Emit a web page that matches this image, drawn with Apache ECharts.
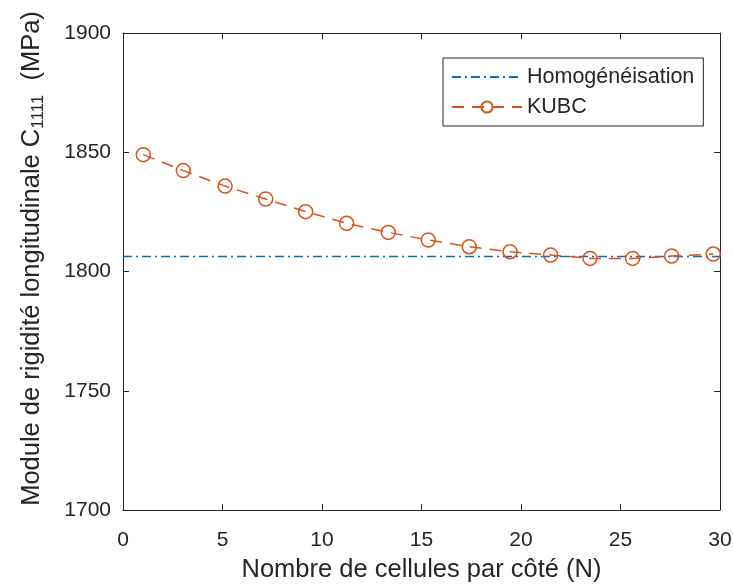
<!DOCTYPE html>
<html>
<head>
<meta charset="utf-8">
<script src="https://cdn.jsdelivr.net/npm/echarts@6/dist/echarts.min.js"></script>
<style>
  html, body { margin: 0; padding: 0; background: #fff; }
  #chart { width: 733px; height: 584px; }
</style>
</head>
<body>
<div id="chart"></div>
<script>
// valeurs
var nCells = [1.02, 3.03, 5.13, 7.17, 9.18, 11.24, 13.33, 15.34, 17.4, 19.45, 21.49, 23.47, 25.61, 27.57, 29.66];
var kubc = [1849.0, 1842.3, 1835.8, 1830.4, 1825.1, 1820.2, 1816.4, 1813.2, 1810.4, 1808.3, 1806.9, 1805.5, 1805.5, 1806.5, 1807.3];
var homogX = [0, 30];
var homogValue = 1806.3;
var xTicks = [0, 5, 10, 15, 20, 25, 30];
var yTicks = [1700, 1750, 1800, 1850, 1900];

var textColor = '#262626';
var font = 'Liberation Sans, Arial, sans-serif';

var chart = echarts.init(document.getElementById('chart'));

function axisBase(extra) {
	var a = {
		type: 'value',
		axisLine: { show: true, onZero: false, lineStyle: { color: textColor, width: 1 } },
		axisTick: { show: true, inside: true, length: 6, lineStyle: { color: textColor } },
		splitLine: { show: false },
		axisLabel: { show: false }
	};
	for (var k in extra) a[k] = extra[k];
	return a;
}

chart.setOption({
	animation: false,
	backgroundColor: '#fff',
	grid: { left: 123, right: 13, top: 33, bottom: 74, containLabel: false, outerBoundsMode: 'none' },
	legend: {
		orient: 'vertical',
		left: 443,
		top: 58,
		padding: [8, 9, 8, 8],
		itemGap: 8,
		itemWidth: 70,
		itemHeight: 14,
		borderColor: textColor,
		borderWidth: 1,
		backgroundColor: '#fff',
		textStyle: { fontFamily: font, fontSize: 21.5, color: textColor },
		data: [
			{ name: 'Homogénéisation', itemStyle: { opacity: 0 } },
			'KUBC'
		]
	},
	xAxis: [
		axisBase({
			position: 'bottom', min: xTicks[0], max: xTicks[xTicks.length - 1], interval: 5,
			name: 'Nombre de cellules par côté (N)',
			nameLocation: 'middle', nameGap: 47,
			nameTextStyle: { fontFamily: font, fontSize: 25.5, color: textColor },
			axisLabel: { show: true, fontFamily: font, fontSize: 21, color: textColor, margin: 20 }
		}),
		axisBase({ position: 'top', min: xTicks[0], max: xTicks[xTicks.length - 1], interval: 5 })
	],
	yAxis: [
		axisBase({
			position: 'left', min: yTicks[0], max: yTicks[yTicks.length - 1], interval: 50,
			name: '{a|Module de rigidité longitudinale C}{s|1111}{a|  (MPa)}',
			nameLocation: 'middle', nameGap: 76,
			nameTextStyle: {
				color: textColor,
				padding: [0, 0, 0, 26],
				rich: {
					a: { fontFamily: font, fontSize: 25.5, color: textColor },
					s: { fontFamily: font, fontSize: 17, color: textColor, padding: [13, 0, 0, 0] }
				}
			},
			axisLabel: {
				show: true, fontFamily: font, fontSize: 21, color: textColor, margin: 12,
				formatter: function (v) { return String(v); }
			}
		}),
		axisBase({ position: 'right', min: yTicks[0], max: yTicks[yTicks.length - 1], interval: 50 })
	],
	series: [
		{
			name: 'Homogénéisation',
			type: 'line',
			data: homogX.map(function (x) { return [x, homogValue]; }),
			symbol: 'none',
			lineStyle: { color: '#0072BD', width: 1.5, type: [9, 4, 2, 4] },
			itemStyle: { color: '#0072BD' }
		},
		{
			name: 'KUBC',
			type: 'line',
			data: nCells.map(function (x, i) { return [x, kubc[i]]; }),
			symbol: 'circle',
			symbolSize: 14,
			lineStyle: { color: '#D95319', width: 1.5, type: [12, 8] },
			itemStyle: { color: 'rgba(0,0,0,0)', borderColor: '#D95319', borderWidth: 1.5 }
		}
	]
});
</script>
</body>
</html>
